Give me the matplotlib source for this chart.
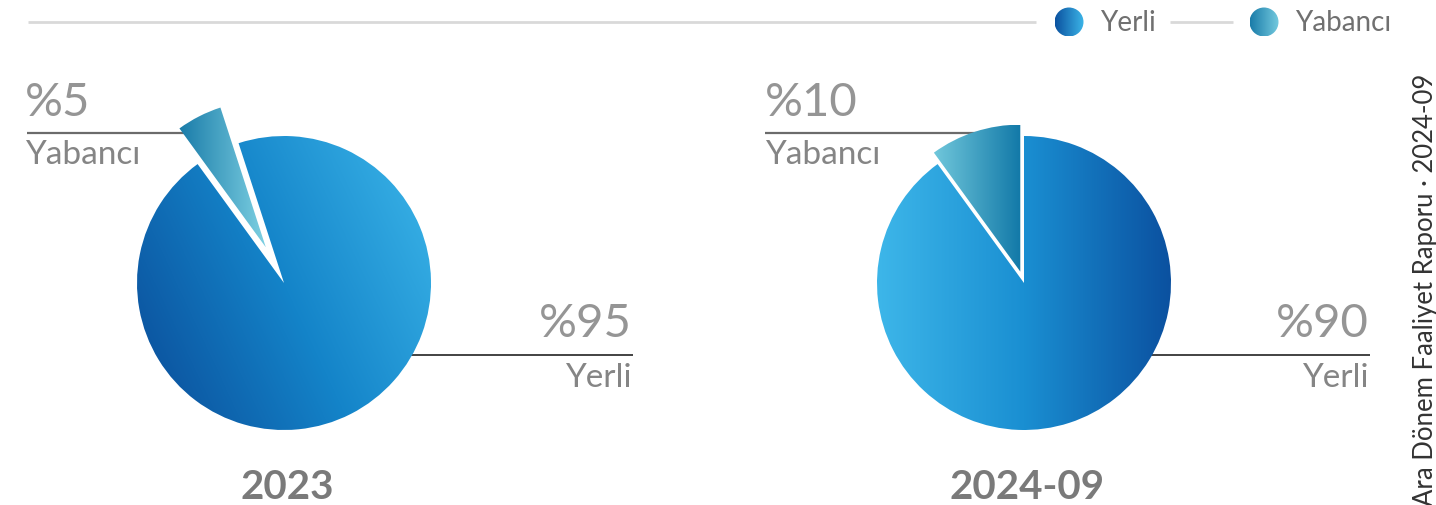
import numpy as np
import matplotlib.pyplot as plt
from matplotlib.colors import LinearSegmentedColormap
from matplotlib.patches import Circle

# data
categories = ['Yabancı', 'Yerli']
years = ['2023', '2024-09']
shares = {'2023': [5, 95], '2024-09': [10, 90]}
footer = 'Ara Dönem Faaliyet Raporu · 2024-09'

plt.rcParams['font.family'] = ['Lato', 'DejaVu Sans']

W, H = 1436, 505
fig = plt.figure(figsize=(W / 100, H / 100), dpi=100)
ax = fig.add_axes([0, 0, 1, 1])


def py(y):
    # pixel row (from top) -> data y
    return H - y


def gradient_fill(patch, colors, angle):
    bb = patch.get_path().get_extents(patch.get_patch_transform())
    t = np.linspace(0, 1, 300)
    X, Y = np.meshgrid(t, t)
    a = np.deg2rad(angle)
    Z = X * np.cos(a) + Y * np.sin(a)
    Z = (Z - Z.min()) / (Z.max() - Z.min())
    cmap = LinearSegmentedColormap.from_list('g', colors)
    im = ax.imshow(Z, extent=(bb.x0, bb.x1, bb.y0, bb.y1), origin='lower',
                   cmap=cmap, aspect='auto', interpolation='bilinear',
                   zorder=patch.get_zorder())
    im.set_clip_path(patch)
    patch.set_facecolor('none')
    patch.set_edgecolor('none')


grey = '#858585'
R = 147

panels = [
    dict(cx=284, cy=283, start=108, expl=40,
         yerli=['#0a4a97', '#1484c9', '#3db7ea'], yang=25,
         yab=['#1a7ca9', '#7dd0e2'], yabang=0,
         lab_x=25, lab_r=632, top_line=(27, 200)),
    dict(cx=1024, cy=283, start=90, expl=12,
         yerli=['#3db6e9', '#1a8fd2', '#0b51a0'], yang=0,
         yab=['#70c7db', '#1279a8'], yabang=0,
         lab_x=765, lab_r=1369, top_line=(765, 1000)),
]

for year, p in zip(years, panels):
    vals = shares[year]
    wedges, _ = ax.pie(vals, startangle=p['start'], center=(p['cx'], py(p['cy'])),
                       radius=R, explode=[p['expl'], 0], counterclock=True,
                       wedgeprops=dict(linewidth=0), frame=False)
    for w in wedges:
        w.set_zorder(3)
    gradient_fill(wedges[0], p['yab'], p['yabang'])
    gradient_fill(wedges[1], p['yerli'], p['yang'])

    # Yabanci label (top left)
    ax.plot(p['top_line'], [py(133)] * 2, color='#6b6b6b', lw=1.6, zorder=1,
            solid_capstyle='butt')
    ax.text(p['lab_x'], py(116), f"%{vals[0]}", fontsize=34,
            color='#959595', ha='left', va='baseline')
    ax.text(p['lab_x'], py(164), categories[0], fontsize=24,
            color=grey, ha='left', va='baseline')

    # Yerli label (bottom right)
    ax.plot((p['cx'] + 90, p['lab_r'] + 1), [py(355)] * 2, color='#222222', lw=1.2,
            zorder=1, solid_capstyle='butt')
    ax.text(p['lab_r'], py(337), f"%{vals[1]}", fontsize=34,
            color='#959595', ha='right', va='baseline')
    ax.text(p['lab_r'], py(387), categories[1], fontsize=24,
            color=grey, ha='right', va='baseline')

    ax.text(p['cx'] + 3, py(499), year, fontsize=29, fontweight='bold',
            color='#7a7a7a', ha='center', va='baseline')

# top rule + legend
ax.plot([28, 1036], [py(22)] * 2, color='#d9d9d9', lw=2, solid_capstyle='butt')
ax.plot([1170, 1233], [py(22)] * 2, color='#d9d9d9', lw=2, solid_capstyle='butt')
legend_items = [(1069, 1100, categories[1], ['#0b52a0', '#3cb5e8']),
                (1264, 1295, categories[0], ['#1a7ca9', '#74cadf'])]
for cx, tx, name, cols in legend_items:
    c = Circle((cx, py(22)), 14.5, zorder=3)
    ax.add_patch(c)
    gradient_fill(c, cols, 0)
    ax.text(tx, py(23), name, fontsize=20, color='#707070',
            ha='left', va='center')

ax.text(1425, py(74), footer, rotation=90, fontsize=18.5, color='#333333',
        ha='center', va='top')

ax.set_xlim(0, W)
ax.set_ylim(0, H)
ax.axis('off')

fig.savefig('out.png', dpi=100)
